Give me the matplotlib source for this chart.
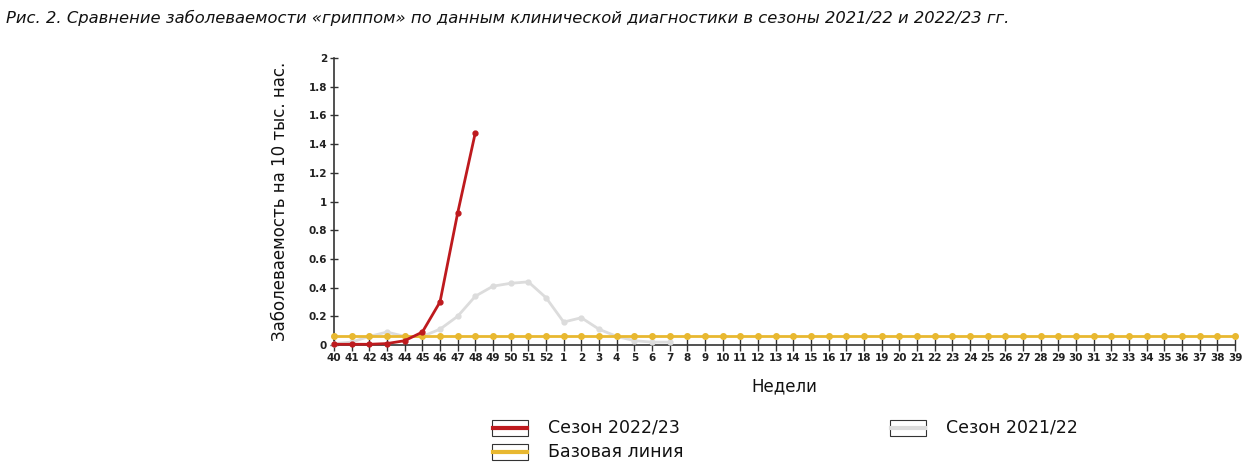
import matplotlib as mpl

mpl.use('Agg')
import matplotlib.pyplot as plt
from matplotlib.patches import Rectangle
from matplotlib.lines import Line2D

# weeks of the season, 40..52 then 1..39
weeks = [str(w) for w in range(40, 53)] + [str(w) for w in range(1, 40)]

# incidence per 10 thousand, season 2022/23 (weeks 40-48)
season_2022 = [0.005, 0.005, 0.005, 0.01, 0.03, 0.09, 0.30, 0.92, 1.48]
# season 2021/22 (weeks 40-7)
season_2021 = [0.01, 0.02, 0.06, 0.09, 0.06, 0.06, 0.11, 0.20, 0.34, 0.41,
               0.43, 0.44, 0.33, 0.16, 0.19, 0.11, 0.06, 0.03, 0.02, 0.02]
# baseline
baseline = [0.065] * len(weeks)

yticks = [0, 0.2, 0.4, 0.6, 0.8, 1, 1.2, 1.4, 1.6, 1.8, 2]
ytick_labels = ["0", "0.2", "0.4", "0.6", "0.8", "1", "1.2", "1.4", "1.6", "1.8", "2"]

RED = "#BE1A1E"
GREY = "#DCDCDC"
GOLD = "#E8B830"

fig = plt.figure(figsize=(12.52, 4.68), dpi=100)
ax = fig.add_axes([334 / 1252, 1 - 345 / 468, (1235 - 334) / 1252, (345 - 58) / 468])

x_all = list(range(len(weeks)))
ax.plot(x_all[:len(season_2021)], season_2021, color=GREY, lw=2, marker='o', ms=3.5,
        clip_on=False, zorder=2)
ax.plot(x_all, baseline, color=GOLD, lw=2, marker='o', ms=4, clip_on=False, zorder=3)
ax.plot(x_all[:len(season_2022)], season_2022, color=RED, lw=2, marker='o', ms=3.5,
        clip_on=False, zorder=4)

ax.set_xlim(0, len(weeks) - 1)
ax.set_ylim(0, 2)
ax.set_xticks(x_all)
ax.set_xticklabels(weeks)
ax.set_yticks(yticks)
ax.set_yticklabels(ytick_labels)
for lab in ax.get_xticklabels() + ax.get_yticklabels():
    lab.set_fontweight('bold')
    lab.set_fontsize(7.5)
    lab.set_color('#222222')
ax.tick_params(axis='both', direction='inout', length=8, width=1, color='#333333', pad=2)
ax.tick_params(axis='y', length=6)
for s in ['top', 'right']:
    ax.spines[s].set_visible(False)
for s in ['left', 'bottom']:
    ax.spines[s].set_color('#333333')
    ax.spines[s].set_linewidth(1.2)
    ax.spines[s].set_zorder(1)

ax.set_ylabel("Заболеваемость на 10 тыс. нас.", fontsize=12, color='#111111', labelpad=14)
ax.set_xlabel("Недели", fontsize=12, color='#111111', labelpad=10)

fig.text(6 / 1252, 1 - 18 / 468,
         "Рис. 2. Сравнение заболеваемости «гриппом» по данным клинической диагностики в сезоны 2021/22 и 2022/23 гг.",
         fontsize=11.8, style='italic', va='center', ha='left', color='#111111')

# legend drawn by hand: boxed swatches with a line through the middle
legend_items = [
    ("Сезон 2022/23", RED, 492, 428),
    ("Базовая линия", GOLD, 492, 452),
    ("Сезон 2021/22", GREY, 890, 428),
]
W, H = 1252, 468
for label, col, lx, ly in legend_items:
    fig.patches.append(Rectangle((lx / W, 1 - (ly + 8) / H), 36 / W, 16 / H,
                                 transform=fig.transFigure, facecolor='white',
                                 edgecolor='#333333', lw=0.8))
    fig.lines.append(Line2D([(lx + 1) / W, (lx + 35) / W], [1 - ly / H, 1 - ly / H],
                            transform=fig.transFigure, color=col, lw=3))
    fig.text((lx + 56) / W, 1 - ly / H, label, fontsize=12.5, va='center', ha='left',
             color='#111111')

fig.savefig("out.png", dpi=100)
